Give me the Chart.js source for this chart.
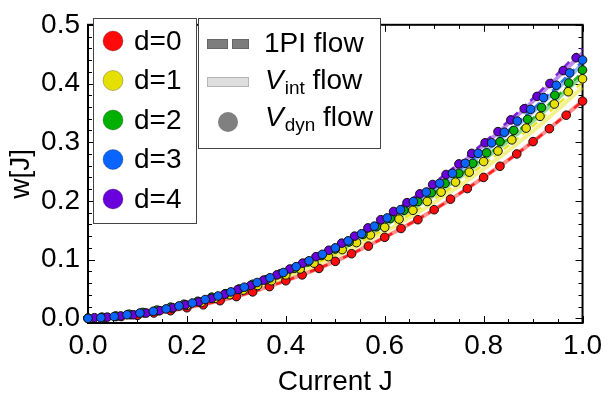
<!DOCTYPE html>
<html>
<head>
<meta charset="utf-8">
<script src="https://cdn.jsdelivr.net/npm/chart.js@4.4.1/dist/chart.umd.min.js"></script>
<style>
  body { margin: 0; background: #fff; }
  #wrap { width: 608px; height: 403px; }
</style>
</head>
<body>
<div id="wrap"><canvas id="myChart"></canvas></div>
<script>
// tick labels
const xTicks = [0, 0.2, 0.4, 0.6, 0.8, 1.0]
const yTicks = [0, 0.1, 0.2, 0.3, 0.4, 0.5]
const legendD = ['d=0', 'd=1', 'd=2', 'd=3', 'd=4']
const colors = ['#ff0a0a', '#e6e000', '#00b000', '#0a64ff', '#6a00dc']

// V_dyn flow (dots)
const jRed = [0, .033, .067, .1, .133, .167, .2, .233, .267, .3, .333, .367, .4, .433, .467, .5,
  .533, .567, .6, .633, .667, .7, .733, .767, .8, .833, .867, .9, .933, .967, 1]
const wRed = [0, .001, .003, .005, .009, .013, .018, .023, .030, .037, .045, .054, .064, .074, .085, .097,
  .110, .123, .138, .153, .168, .185, .203, .221, .240, .259, .280, .301, .323, .346, .370]

const jYellow = [0, .029, .057, .086, .114, .143, .171, .2, .229, .257, .286, .314, .343, .371, .4, .429,
  .457, .486, .514, .543, .571, .6, .629, .657, .686, .714, .743, .771, .8, .829, .857, .886, .914, .943, .971, 1]
const wYellow = [0, .001, .003, .006, .009, .013, .017, .022, .027, .034, .040, .048, .056, .064, .074, .084,
  .094, .105, .117, .129, .142, .155, .169, .184, .199, .215, .232, .249, .267, .285, .304, .324, .344, .365, .386, .408]

const jGreen = [0, .028, .056, .083, .111, .139, .167, .194, .222, .25, .278, .306, .333, .361, .389, .417,
  .444, .472, .5, .528, .556, .583, .611, .639, .667, .694, .722, .75, .778, .806, .833, .861, .889, .917, .944, .972, 1]
const wGreen = [0, .002, .004, .007, .010, .014, .019, .024, .029, .036, .042, .050, .058, .066, .076, .085,
  .096, .107, .118, .130, .143, .156, .170, .184, .199, .214, .230, .247, .264, .282, .301, .320, .339, .359, .380, .401, .423]

const jBlue = [0, .026, .053, .079, .105, .132, .158, .184, .211, .237, .263, .289, .316, .342, .368, .395,
  .421, .447, .474, .5, .526, .553, .579, .605, .632, .658, .684, .711, .737, .763, .789, .816, .842, .868, .895, .921, .947, .974, 1]
const wBlue = [0, .001, .003, .006, .009, .012, .016, .021, .026, .032, .038, .045, .053, .061, .069, .078,
  .088, .098, .109, .120, .132, .144, .157, .171, .185, .199, .215, .230, .247, .264, .281, .299, .317, .336, .356, .376, .397, .418, .440]

const jPurple = [.013, .039, .066, .092, .118, .145, .171, .197, .224, .25, .276, .303, .329, .355, .382, .408,
  .434, .461, .487, .513, .539, .566, .592, .618, .645, .671, .697, .724, .75, .776, .803, .829, .855, .882, .908, .934, .961, .987]
const wPurple = [.001, .002, .004, .006, .009, .013, .018, .023, .028, .034, .041, .049, .056, .065, .074, .084,
  .094, .105, .116, .128, .140, .154, .168, .182, .197, .212, .228, .245, .263, .281, .299, .318, .338, .357, .378, .400, .422, .444]

// 1PI flow (dashed) and V_int flow (light solid)
const jLine = [0, 0.1, 0.2, 0.3, 0.4, 0.5, 0.6, 0.7, 0.8, 0.9, 1.0]
const pi1_0 = [0, .005, .018, .037, .064, .097, .138, .185, .240, .301, .370]
const pi1_1 = [0, .007, .022, .043, .073, .109, .152, .203, .262, .328, .402]
const pi1_2 = [0, .009, .024, .047, .078, .116, .161, .214, .274, .341, .419]
const pi1_3 = [0, .008, .024, .048, .079, .119, .167, .222, .286, .357, .438]
const pi1_4 = [0, .007, .023, .048, .081, .122, .172, .231, .299, .375, .460]
const int_0 = [0, .005, .018, .037, .064, .097, .138, .185, .240, .301, .370]
const int_1 = [0, .006, .021, .042, .070, .105, .147, .197, .254, .319, .393]
const int_2 = [0, .008, .024, .046, .076, .113, .158, .210, .270, .336, .414]
const int_3 = [0, .008, .024, .047, .078, .117, .164, .219, .282, .352, .433]
const int_4 = [0, .007, .023, .047, .080, .120, .170, .228, .295, .370, .452]

const dotX = [jRed, jYellow, jGreen, jBlue, jPurple]
const dotY = [wRed, wYellow, wGreen, wBlue, wPurple]
const pi1Y = [pi1_0, pi1_1, pi1_2, pi1_3, pi1_4]
const intY = [int_0, int_1, int_2, int_3, int_4]
const dotOrder = [5, 4, 3, 1, 2]

const font = { family: 'Liberation Sans', size: 28 }

function pts(xs, ys) {
  return xs.map((x, i) => ({ x: x, y: ys[i] }))
}
function alpha(hex, a) {
  let r = parseInt(hex.slice(1, 3), 16), g = parseInt(hex.slice(3, 5), 16), b = parseInt(hex.slice(5, 7), 16)
  return `rgba(${r},${g},${b},${a})`
}

let datasets = []
for (let d = 0; d < 5; d++) {
  datasets.push({
    label: 'Vint ' + d, data: pts(jLine, intY[d]),
    borderColor: alpha(colors[d], 0.45), borderWidth: 4, pointRadius: 0,
    cubicInterpolationMode: 'monotone', order: 20 - d, clip: false
  })
  datasets.push({
    label: '1PI ' + d, data: pts(jLine, pi1Y[d]),
    borderColor: alpha(colors[d], 0.85), borderWidth: 2.5, borderDash: [7, 5], pointRadius: 0,
    cubicInterpolationMode: 'monotone', order: 15 - d, clip: false
  })
  datasets.push({
    label: 'Vdyn ' + d, data: pts(dotX[d], dotY[d]),
    showLine: false, pointRadius: 4.3, pointBorderWidth: 1,
    pointBackgroundColor: colors[d], pointBorderColor: '#111',
    order: dotOrder[d], clip: false
  })
}

// frame with inward ticks on all four sides, drawn under the data
const framePlugin = {
  id: 'frame',
  beforeDatasetsDraw(chart) {
    const c = chart.ctx, a = chart.chartArea
    const xs = chart.scales.x, ys = chart.scales.y
    c.save()
    c.strokeStyle = '#000'
    c.lineWidth = 2
    c.strokeRect(a.left, a.top, a.right - a.left, a.bottom - a.top)
    c.lineWidth = 1
    for (let i = 0; i <= 20; i++) {
      let v = i * 0.05
      let len = (i % 4 == 0) ? 7 : 4
      let px = Math.round(xs.getPixelForValue(v)) + 0.5
      c.beginPath()
      c.moveTo(px, a.bottom); c.lineTo(px, a.bottom - len)
      c.moveTo(px, a.top); c.lineTo(px, a.top + len)
      c.stroke()
    }
    for (let i = 0; i <= 25; i++) {
      let v = i * 0.02
      let len = (i % 5 == 0) ? 7 : 4
      let py = Math.round(ys.getPixelForValue(v)) + 0.5
      c.beginPath()
      c.moveTo(a.left, py); c.lineTo(a.left + len, py)
      c.moveTo(a.right, py); c.lineTo(a.right - len, py)
      c.stroke()
    }
    c.restore()
  }
}

function subText(c, x, y, main, sub, rest) {
  c.font = 'italic 28px "Liberation Sans"'
  c.fillText(main, x, y)
  x += c.measureText(main).width + 1
  c.font = '19px "Liberation Sans"'
  c.fillText(sub, x, y + 8)
  x += c.measureText(sub).width
  c.font = '28px "Liberation Sans"'
  c.fillText(rest, x, y)
}

const legendPlugin = {
  id: 'boxes',
  afterDraw(chart) {
    const c = chart.ctx
    c.save()
    c.fillStyle = '#fff'
    c.strokeStyle = '#444'
    c.lineWidth = 1
    c.fillRect(93, 18, 103, 205)
    c.strokeRect(93.5, 18.5, 103, 205)
    c.textBaseline = 'middle'
    for (let d = 0; d < 5; d++) {
      let y = 41 + d * 39.5
      c.beginPath()
      c.arc(113, y, 10, 0, Math.PI * 2)
      c.fillStyle = colors[d]
      c.fill()
      c.strokeStyle = 'rgba(0,0,0,0.25)'
      c.stroke()
      c.fillStyle = '#000'
      c.font = '28px "Liberation Sans"'
      c.fillText(legendD[d], 134, y + 1)
    }
    c.fillStyle = '#fff'
    c.fillRect(198, 18, 182, 130)
    c.strokeStyle = '#444'
    c.strokeRect(198.5, 18.5, 182, 130)
    // 1PI flow
    c.fillStyle = '#7d7d7d'
    c.strokeStyle = '#666'
    c.fillRect(207, 39, 20, 9); c.strokeRect(207.5, 39.5, 20, 9)
    c.fillRect(232, 39, 16, 9); c.strokeRect(232.5, 39.5, 16, 9)
    // V_int flow
    c.fillStyle = '#dedede'
    c.strokeStyle = '#b5b5b5'
    c.fillRect(207, 77, 41, 9); c.strokeRect(207.5, 77.5, 41, 9)
    // V_dyn flow
    c.beginPath()
    c.arc(228, 122, 10, 0, Math.PI * 2)
    c.fillStyle = '#808080'
    c.fill()
    c.fillStyle = '#000'
    c.font = '28px "Liberation Sans"'
    c.fillText('1PI flow', 264, 44)
    subText(c, 265, 81, 'V', 'int', ' flow')
    subText(c, 265, 118, 'V', 'dyn', ' flow')
    c.restore()
  }
}

const ctx = document.getElementById('myChart')
const chart = new Chart(ctx, {
  type: 'line',
  data: { datasets: datasets },
  options: {
    animation: false,
    responsive: true,
    maintainAspectRatio: false,
    layout: { padding: { top: 13, right: 18, left: 0, bottom: 0 } },
    plugins: { legend: { display: false }, tooltip: { enabled: false } },
    scales: {
      x: {
        type: 'linear', min: 0, max: 1,
        afterBuildTicks: (s) => { s.ticks = xTicks.map(v => ({ value: v })) },
        afterFit: (s) => { s.height = 80 },
        grid: { display: false, drawTicks: false },
        border: { display: false },
        ticks: { font: font, color: '#000', padding: 6, maxRotation: 0, autoSkip: false,
          callback: (v) => v.toFixed(1) },
        title: { display: true, text: 'Current J', font: font, color: '#000', padding: { top: 8 } }
      },
      y: {
        type: 'linear', min: -0.008, max: 0.5,
        afterBuildTicks: (s) => { s.ticks = yTicks.map(v => ({ value: v })) },
        afterFit: (s) => { s.width = 88 },
        grid: { display: false, drawTicks: false },
        border: { display: false },
        ticks: { font: font, color: '#000', padding: 8, autoSkip: false,
          callback: (v) => v.toFixed(1) },
        title: { display: true, text: 'w[J]', font: font, color: '#000', padding: { bottom: 0, top: 4 } }
      }
    }
  },
  plugins: [framePlugin, legendPlugin]
})
</script>
</body>
</html>
